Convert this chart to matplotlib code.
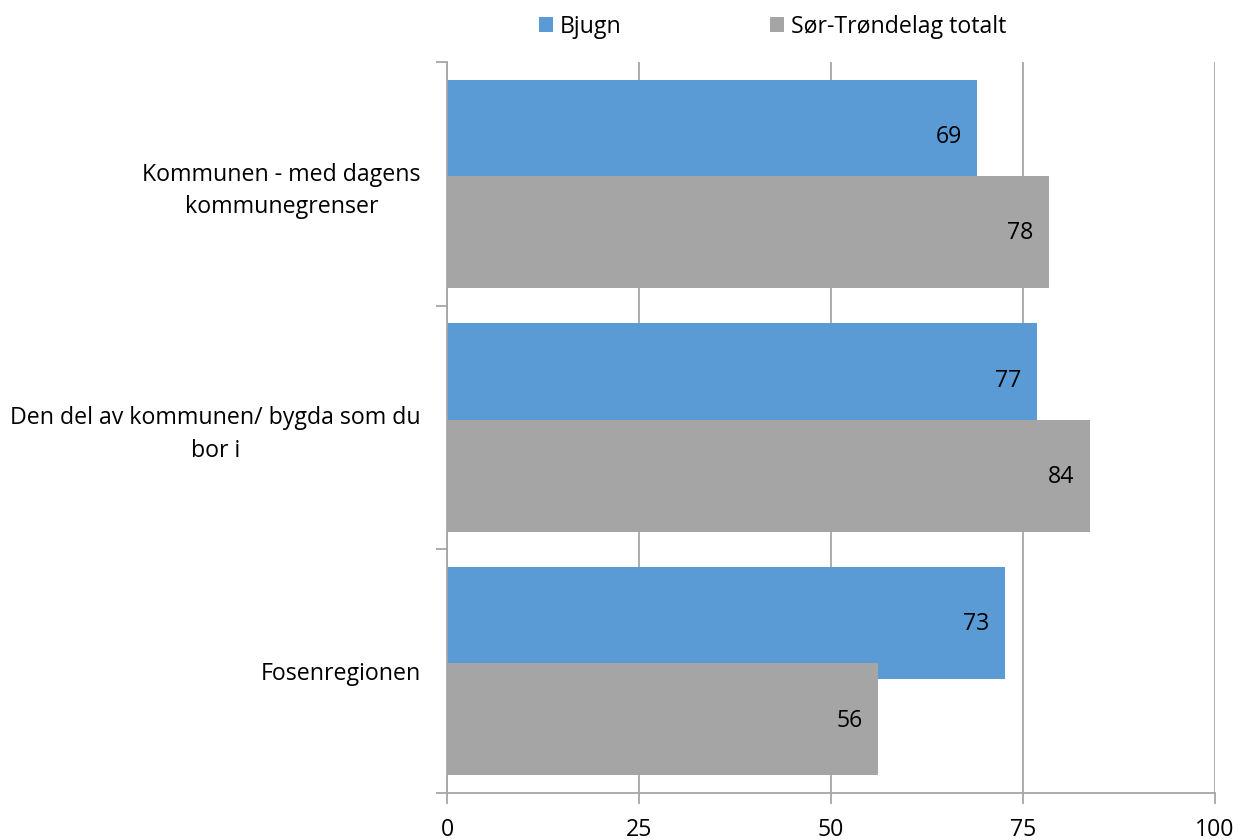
import matplotlib
matplotlib.use("Agg")
import matplotlib.pyplot as plt
import numpy as np

plt.rcParams['font.family'] = ['Open Sans', 'DejaVu Sans']

categories = ["Kommunen - med dagens\nkommunegrenser",
              "Den del av kommunen/ bygda som du\nbor i",
              "Fosenregionen"]
series_names = ["Bjugn", "Sør-Trøndelag totalt"]
bjugn = [69.0, 76.8, 72.6]
st_total = [78.4, 83.7, 56.1]
bjugn_labels = ["69", "77", "73"]
st_labels = ["78", "84", "56"]
xticks = [0, 25, 50, 75, 100]

colors = ["#5B9BD5", "#A5A5A5"]
grid_color = "#A6A6A6"
fs = 16.7

fig = plt.figure(figsize=(12.38, 8.4), dpi=100)
ax = fig.add_axes([447/1238, 1-793/840, (1215-447)/1238, (793-62)/840])

y = np.arange(len(categories))
h = 0.46
off = 0.1975
ax.barh(y - off, bjugn, height=h, color=colors[0], label=series_names[0], zorder=2)
ax.barh(y + off, st_total, height=h, color=colors[1], label=series_names[1], zorder=3)

for yi, v, lab in zip(y - off + 0.005, bjugn, bjugn_labels):
    ax.text(v - 2.0, yi, lab, ha='right', va='center', fontsize=fs, color='#000000', zorder=5)
for yi, v, lab in zip(y + off + 0.005, st_total, st_labels):
    ax.text(v - 2.0, yi, lab, ha='right', va='center', fontsize=fs, color='#000000', zorder=5)

ax.set_xlim(0, 100)
ax.set_ylim(len(categories) - 0.5, -0.5)
ax.set_xticks(xticks)
ax.set_xticklabels([str(t) for t in xticks], fontsize=fs)
ax.xaxis.grid(True, color=grid_color, linewidth=1.3, zorder=1)
ax.set_axisbelow(True)

ax.set_yticks(y)
ax.set_yticklabels(categories, fontsize=fs, ha='right', multialignment='center',
                   linespacing=1.45)
ax.tick_params(axis='y', length=0, pad=19)
ax.set_yticks([-0.5, 0.5, 1.5, 2.5], minor=True)
ax.tick_params(axis='y', which='minor', length=8, color=grid_color, width=1.3)
ax.tick_params(axis='x', length=8, color=grid_color, width=1.3, pad=10)

for s in ['top', 'right']:
    ax.spines[s].set_visible(False)
for s in ['left', 'bottom']:
    ax.spines[s].set_color(grid_color)
    ax.spines[s].set_linewidth(1.3)

leg = fig.legend(loc='upper center', bbox_to_anchor=(0.624, 1.007), ncol=2, frameon=False,
                 fontsize=fs, handlelength=0.6, handleheight=0.6, handletextpad=0.3,
                 columnspacing=6.4)

fig.savefig("out.png", dpi=100)
